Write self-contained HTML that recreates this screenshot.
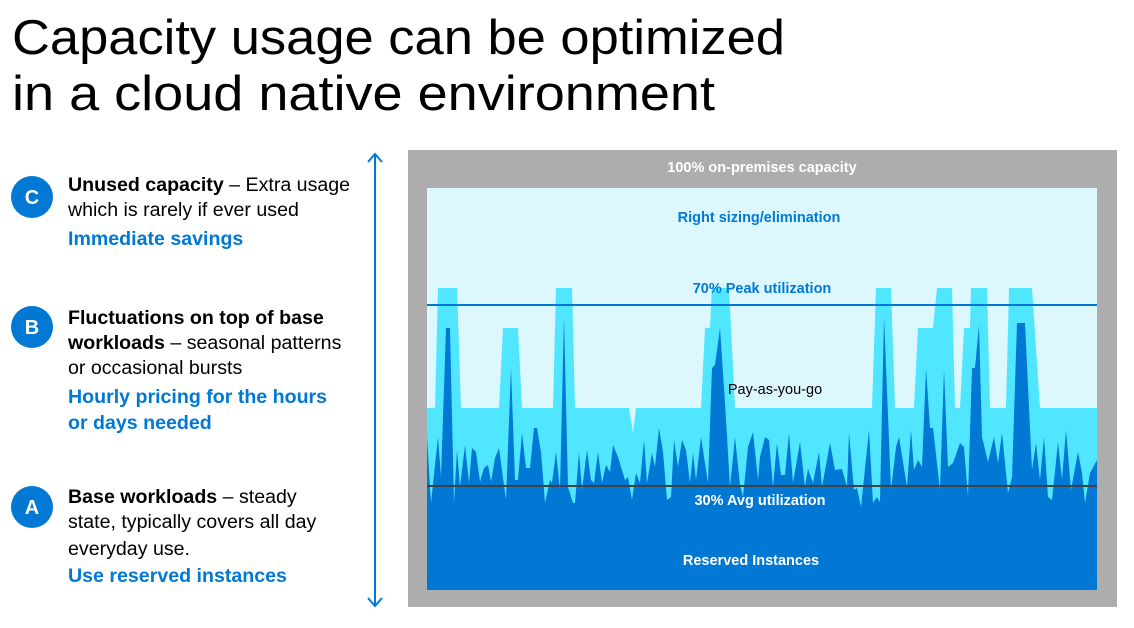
<!DOCTYPE html>
<html><head><meta charset="utf-8"><style>
html,body{margin:0;padding:0;background:#fff;}
svg{display:block;font-family:"Liberation Sans",sans-serif;}
</style></head><body>
<svg width="1134" height="628" viewBox="0 0 1134 628" xmlns="http://www.w3.org/2000/svg">
<text x="12" y="54" font-size="49" fill="#000" textLength="773" lengthAdjust="spacingAndGlyphs">Capacity usage can be optimized</text>
<text x="12" y="110" font-size="49" fill="#000" textLength="703" lengthAdjust="spacingAndGlyphs">in a cloud native environment</text>

<g font-size="19.6" fill="#000">
<circle cx="32" cy="197" r="21" fill="#0078d4"/>
<text x="32" y="204" font-size="20" font-weight="bold" fill="#fff" text-anchor="middle">C</text>
<text x="68" y="191"><tspan font-weight="bold">Unused capacity</tspan> – Extra usage</text>
<text x="68" y="216">which is rarely if ever used</text>
<text x="68" y="245" font-weight="bold" fill="#0078d4">Immediate savings</text>

<circle cx="32" cy="327" r="21" fill="#0078d4"/>
<text x="32" y="334" font-size="20" font-weight="bold" fill="#fff" text-anchor="middle">B</text>
<text x="68" y="324" font-weight="bold">Fluctuations on top of base</text>
<text x="68" y="349"><tspan font-weight="bold">workloads</tspan> – seasonal patterns</text>
<text x="68" y="374">or occasional bursts</text>
<text x="68" y="403" font-weight="bold" fill="#0078d4">Hourly pricing for the hours</text>
<text x="68" y="429" font-weight="bold" fill="#0078d4">or days needed</text>

<circle cx="32" cy="507" r="21" fill="#0078d4"/>
<text x="32" y="514" font-size="20" font-weight="bold" fill="#fff" text-anchor="middle">A</text>
<text x="68" y="503"><tspan font-weight="bold">Base workloads</tspan> – steady</text>
<text x="68" y="528">state, typically covers all day</text>
<text x="68" y="555">everyday use.</text>
<text x="68" y="582" font-weight="bold" fill="#0078d4">Use reserved instances</text>
</g>

<line x1="375" y1="155" x2="375" y2="605" stroke="#0078d4" stroke-width="2"/>
<polyline points="368,162 375,154 382,162" fill="none" stroke="#0078d4" stroke-width="2"/>
<polyline points="368,598 375,606 382,598" fill="none" stroke="#0078d4" stroke-width="2"/>

<rect x="408" y="150" width="709" height="457" fill="#adadad"/>
<rect x="427" y="188" width="670" height="402" fill="#dcf8fe"/>
<polygon fill="#50e6ff" points="427,590 427,408 435,408 438,288 457,288 461,408 499,408 503,328 518,328 522,408 553,408 556,288 572,288 575,408 629,408 633,433 636,408 701,408 705,328 710,328 712,288 729,288 735,408 872,408 876,288 891,288 895,408 914,408 918,328 933,328 937,288 952,288 955,408 960,408 964,328 970,328 971,288 987,288 990,408 1006,408 1009,288 1032,288 1040,408 1097,408 1097,590"/>
<polygon fill="#0078d4" points="427,590 427,437 431,503 438,437 441,477 446,328 450,328 454,503 457,450 460,487 465,445 469,483 472,448 476,452 480,482 484,468 488,465 491,482 495,458 499,448 506,500 511,368 515,480 518,480 522,433 526,468 530,468 534,428 537,428 541,452 545,503 550,480 552,483 556,452 560,490 564,317 568,487 573,503 575,503 579,452 582,490 587,450 591,480 594,483 598,452 602,483 606,465 610,472 613,445 618,457 625,480 628,477 632,500 636,473 640,483 644,440 647,483 652,453 655,467 659,428 663,452 667,500 671,497 674,440 678,467 682,440 686,450 690,483 693,453 696,480 701,437 708,483 712,368 715,365 720,328 725,403 730,487 735,437 740,485 743,497 748,447 753,432 758,480 760,457 765,437 769,440 773,487 777,443 781,475 785,475 789,433 793,483 800,442 805,487 808,469 813,483 819,452 822,487 830,443 835,470 842,469 847,487 849,433 854,490 857,488 861,507 869,430 873,503 877,497 880,502 884,317 891,490 896,447 899,437 907,487 911,430 914,470 918,460 922,467 926,368 930,428 933,428 940,490 944,370 948,467 953,463 960,443 964,447 968,497 972,368 975,368 979,325 982,437 988,462 994,437 998,463 1002,433 1008,493 1012,477 1017,323 1025,323 1032,470 1036,443 1040,480 1044,437 1048,497 1052,500 1058,442 1062,480 1066,430 1071,490 1078,452 1082,473 1085,503 1090,473 1097,460 1097,590"/>
<line x1="427" y1="305" x2="1097" y2="305" stroke="#0078d4" stroke-width="2"/>
<line x1="427" y1="486" x2="1097" y2="486" stroke="#404040" stroke-width="2"/>

<g font-size="14.5" font-weight="bold" text-anchor="middle">
<text x="762" y="172" fill="#fff">100% on-premises capacity</text>
<text x="759" y="222" fill="#0078d4">Right sizing/elimination</text>
<text x="762" y="293" fill="#0078d4">70% Peak utilization</text>
<text x="775" y="394" fill="#000" font-weight="normal">Pay-as-you-go</text>
<text x="760" y="505" fill="#fff">30% Avg utilization</text>
<text x="751" y="565" fill="#fff">Reserved Instances</text>
</g>
</svg>
</body></html>
